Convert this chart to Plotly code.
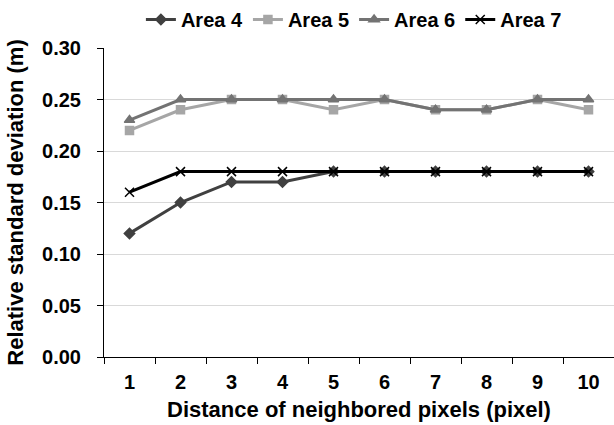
import plotly.graph_objects as go

categories = ["1", "2", "3", "4", "5", "6", "7", "8", "9", "10"]
area4 = [0.12, 0.15, 0.17, 0.17, 0.18, 0.18, 0.18, 0.18, 0.18, 0.18]
area5 = [0.22, 0.24, 0.25, 0.25, 0.24, 0.25, 0.24, 0.24, 0.25, 0.24]
area6 = [0.23, 0.25, 0.25, 0.25, 0.25, 0.25, 0.24, 0.24, 0.25, 0.25]
area7 = [0.16, 0.18, 0.18, 0.18, 0.18, 0.18, 0.18, 0.18, 0.18, 0.18]
y_ticks = [0.0, 0.05, 0.10, 0.15, 0.20, 0.25, 0.30]

series = [
    ("Area 4", area4, "#404040", "diamond", 8),
    ("Area 5", area5, "#a6a6a6", "square", 8),
    ("Area 6", area6, "#737373", "triangle-up", 9),
    ("Area 7", area7, "#000000", "x-thin", 9),
]

FAM = "Liberation Sans, Arial, sans-serif"

fig = go.Figure()
for name, vals, color, sym, size in series:
    fig.add_trace(go.Scatter(
        x=categories, y=vals, name=name, mode="lines+markers",
        line=dict(color=color, width=3),
        marker=dict(symbol=sym, size=size, color=color,
                    line=dict(color=color, width=1.5)),
    ))

fig.update_layout(
    width=614, height=425,
    margin=dict(l=104, r=0, t=48, b=68),
    paper_bgcolor="white", plot_bgcolor="white",
    font=dict(family=FAM, size=20, color="#000000"),
    showlegend=True,
    legend=dict(orientation="h", x=0.49, xanchor="center", y=1.03, yanchor="bottom",
                font=dict(family=FAM, size=20, color="#000000", weight="bold"),
                itemwidth=30, tracegroupgap=0),
    xaxis=dict(
        type="category", tickson="boundaries", ticks="outside", ticklen=6,
        tickcolor="#000000", showline=True, linecolor="#000000", linewidth=1,
        showgrid=False, range=[-0.5, 9.5], ticklabelstandoff=7,
        tickfont=dict(family=FAM, size=20, color="#000000", weight="bold"),
        title=dict(text="<b>Distance of neighbored pixels (pixel)</b>", standoff=9,
                   font=dict(family=FAM, size=22)),
    ),
    yaxis=dict(
        range=[0, 0.30], tickvals=y_ticks, tickformat=".2f",
        ticks="outside", ticklen=6, tickcolor="#000000",
        showline=True, linecolor="#000000", linewidth=1,
        showgrid=True, gridcolor="#d9d9d9", gridwidth=1, zeroline=False,
        ticklabelstandoff=12,
        tickfont=dict(family=FAM, size=20, color="#000000", weight="bold"),
        title=dict(text="<b>Relative standard deviation (m)</b>", standoff=12,
                   font=dict(family=FAM, size=22)),
    ),
)

fig.write_html("out.html")
